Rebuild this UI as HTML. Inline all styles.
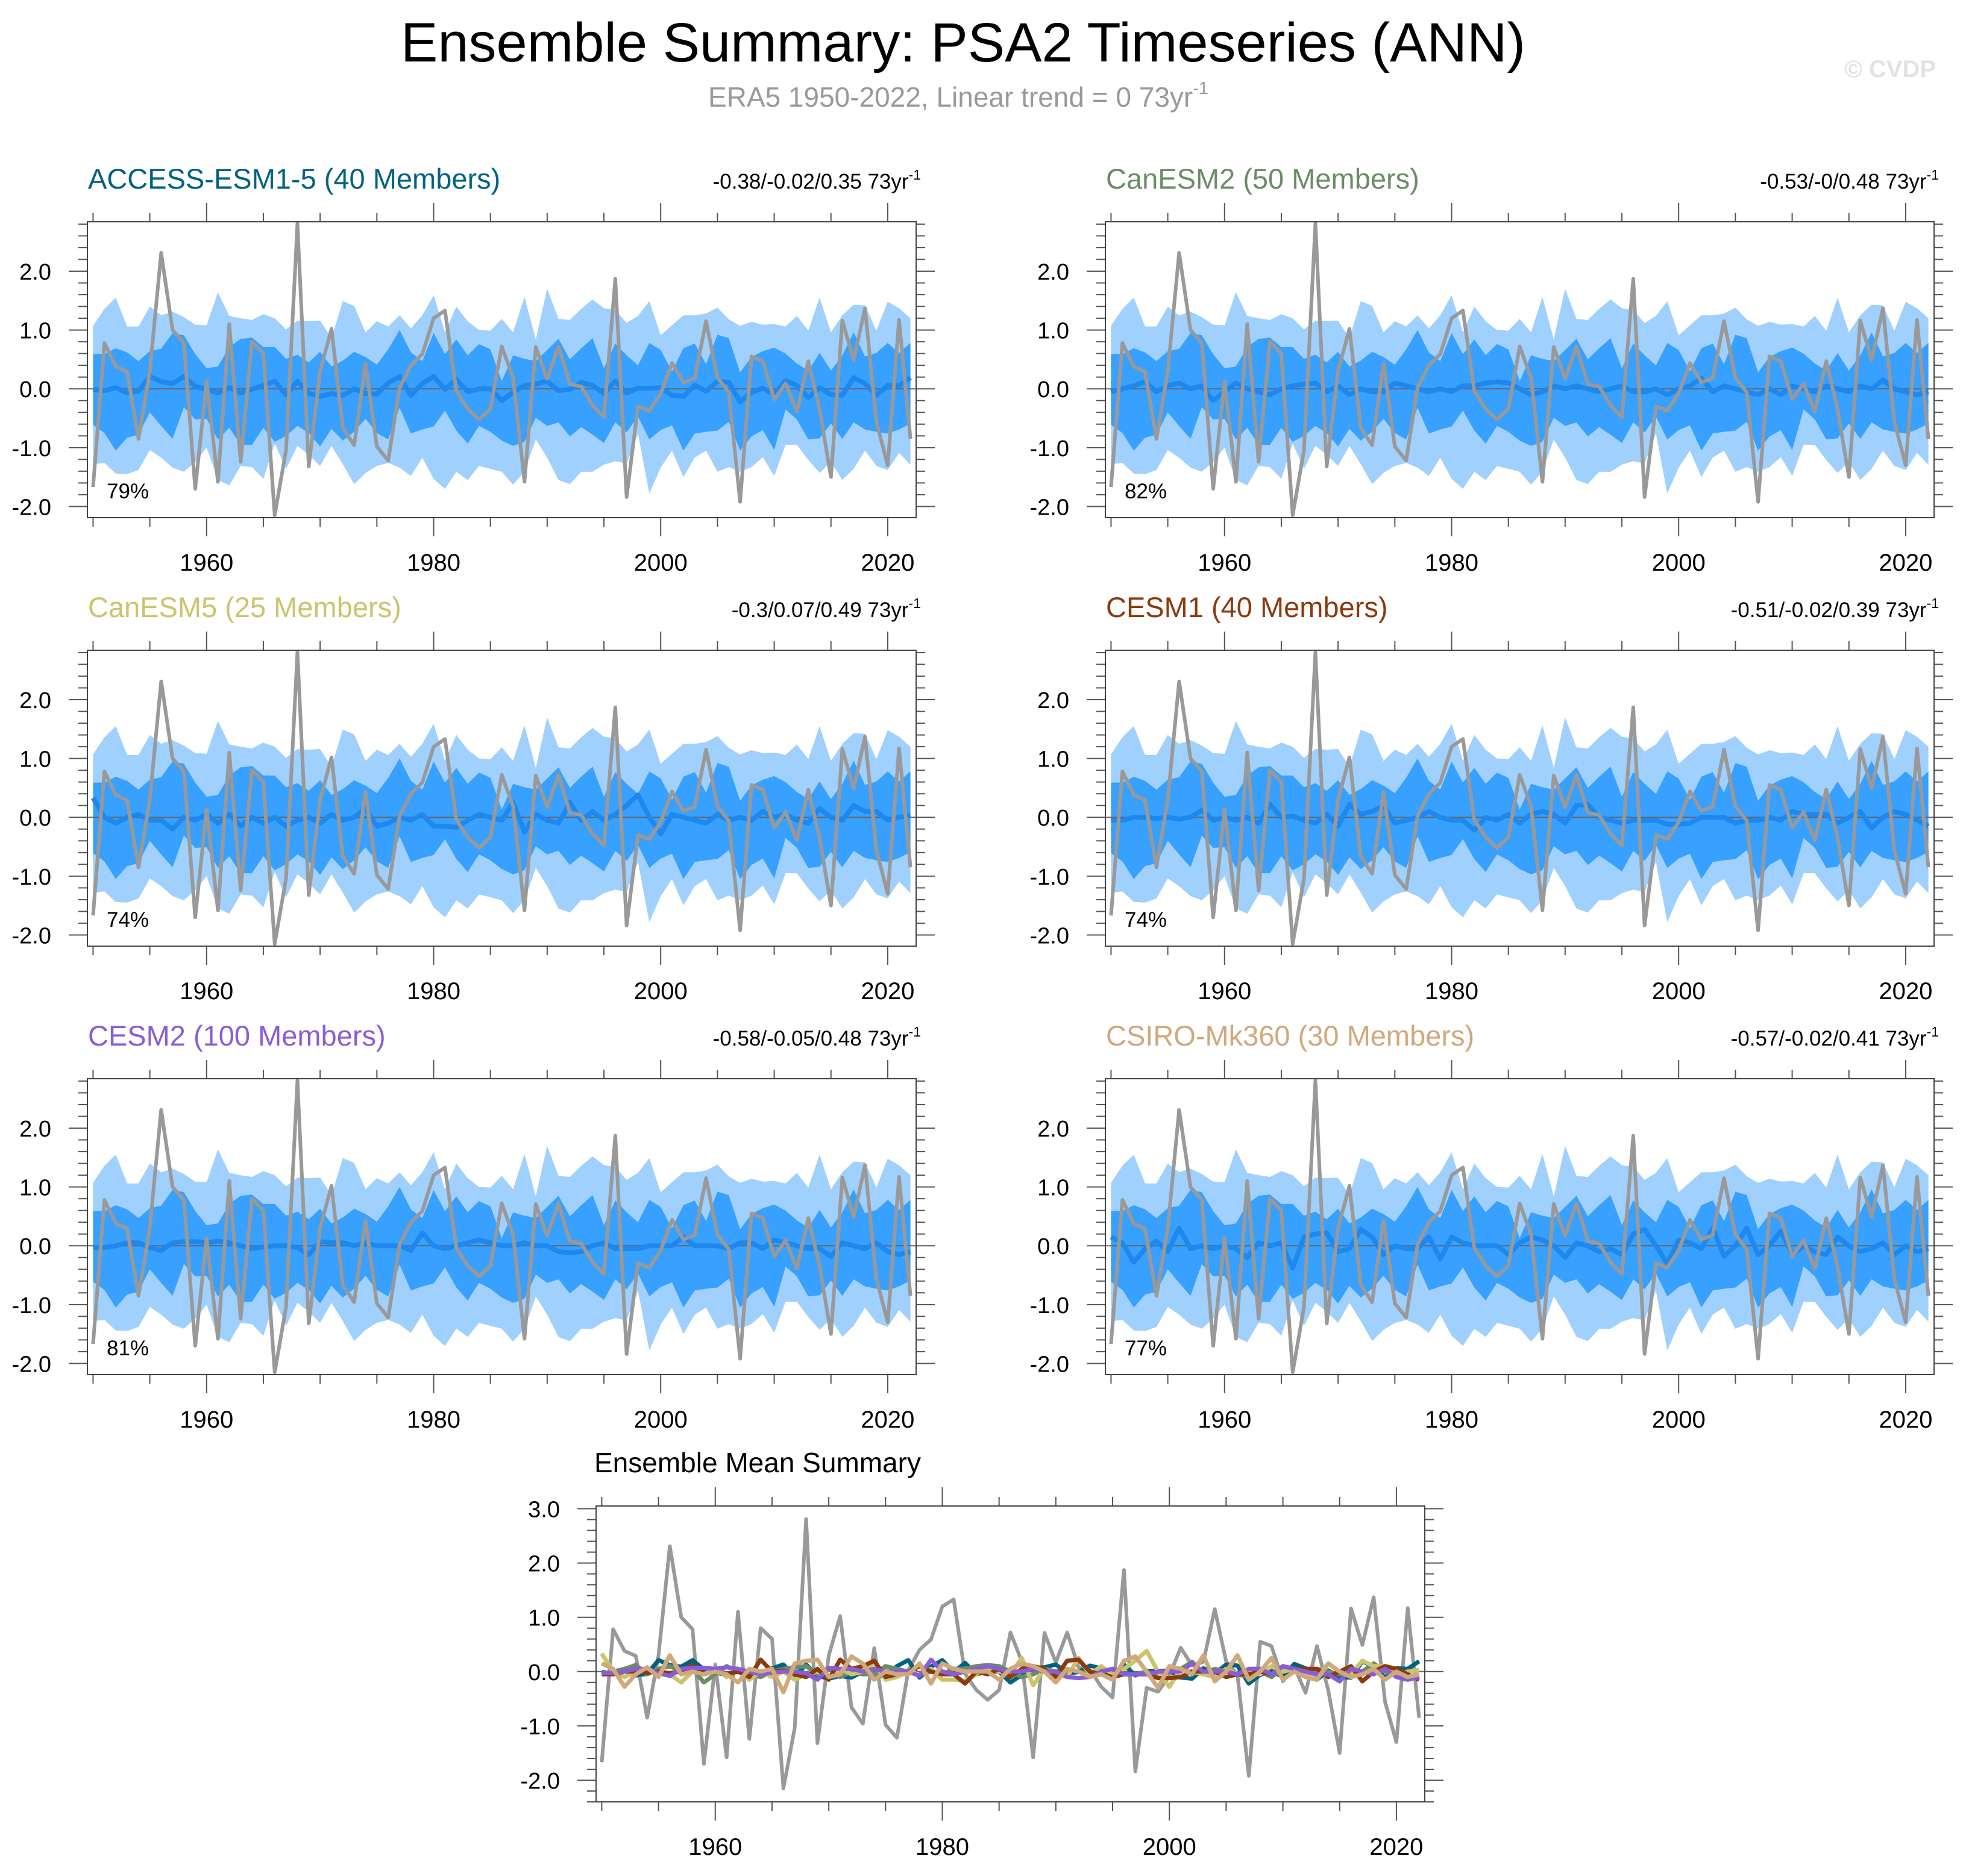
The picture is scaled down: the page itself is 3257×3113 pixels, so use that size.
<!DOCTYPE html>
<html><head><meta charset="utf-8"><style>
html,body{margin:0;padding:0;background:#fff;}
svg{display:block;font-family:"Liberation Sans",Arial,sans-serif;}
</style></head><body>
<svg id="fig" xmlns="http://www.w3.org/2000/svg" width="3257" height="3113" viewBox="0 0 3257 3113">
<rect width="3257" height="3113" fill="#fff"/>
<text x="1598" y="102" font-size="92" text-anchor="middle" fill="#000">Ensemble Summary: PSA2 Timeseries (ANN)</text>
<text x="1590" y="177" font-size="46" text-anchor="middle" fill="#999">ERA5 1950-2022, Linear trend = 0 73yr<tspan font-size="29" dy="-21">-1</tspan></text>
<text x="3212" y="128" font-size="40" font-weight="bold" text-anchor="end" fill="#e2e2e2">© CVDP</text>
<g id="plots"></g>
</svg>
<script>
const years = [];
for (let y = 1950; y <= 2022; y++) years.push(y);
const era5 = [-1.67,0.78,0.38,0.29,-0.85,0.30,2.31,1.00,0.78,-1.70,
0.13,-1.58,1.10,-1.24,0.80,0.60,-2.15,-1.04,2.81,-1.32,
0.30,1.02,-0.66,-0.96,0.43,-0.98,-1.22,0.02,0.40,0.59,
1.20,1.33,-0.04,-0.34,-0.52,-0.34,0.72,0.19,-1.58,0.71,
0.17,0.72,0.08,0.04,-0.28,-0.48,1.87,-1.84,-0.30,-0.37,
-0.08,0.44,0.11,0.18,1.15,0.19,-0.06,-1.92,0.55,0.47,
-0.18,0.09,-0.39,0.47,-0.35,-1.50,1.16,0.49,1.37,-0.56,
-1.30,1.17,-0.85];
const accessMean = [-0.01,-0.03,0.02,-0.07,-0.04,0.21,0.12,0.09,0.21,0.04,
-0.01,-0.07,0.02,-0.07,-0.01,0.06,0.13,-0.10,0.13,-0.08,
-0.13,-0.08,-0.11,0.00,-0.08,-0.09,0.10,0.21,-0.11,0.09,
0.21,-0.01,0.16,-0.05,0.00,0.00,-0.20,-0.06,0.06,0.08,
0.13,-0.03,-0.01,0.11,0.06,-0.08,0.13,-0.07,0.01,0.01,
0.02,-0.11,-0.13,0.06,-0.04,0.13,0.11,-0.22,-0.06,0.01,
-0.10,0.14,0.06,-0.15,0.02,-0.10,-0.11,0.19,0.09,-0.11,
0.06,0.05,0.19];
const outerTop = [1.07,1.36,1.55,1.06,1.06,1.40,1.25,1.31,1.22,1.09,
1.08,1.64,1.24,1.20,1.17,1.27,1.20,1.01,1.16,1.15,
1.16,0.86,1.49,1.41,0.96,1.15,1.06,1.25,1.03,1.25,
1.59,0.96,1.40,1.15,1.00,0.99,1.19,0.96,1.56,0.84,
1.70,1.19,1.17,1.36,1.52,1.37,1.34,1.12,1.24,1.49,
0.91,1.08,1.25,1.25,1.28,1.38,1.18,1.07,1.14,1.09,
1.10,1.06,1.24,0.99,1.55,0.96,1.25,1.43,1.42,0.99,
1.48,1.37,1.20];
const innerTop = [0.59,0.59,0.69,0.62,0.47,0.64,0.68,0.95,0.91,0.59,
0.35,0.38,0.71,0.85,0.87,0.71,0.71,0.51,0.58,0.45,
0.63,0.38,0.48,0.63,0.54,0.41,0.67,1.00,0.62,0.47,
0.95,0.59,0.84,0.57,0.76,0.67,0.13,0.57,0.51,0.47,
0.66,0.85,0.50,0.69,0.86,0.35,0.77,0.57,0.40,0.78,
0.66,0.30,0.69,0.77,0.42,0.92,0.86,0.28,0.54,0.64,
0.70,0.60,0.43,0.31,0.61,0.31,0.57,0.96,0.55,0.61,
0.78,0.61,0.78];
const innerBot = [-0.61,-0.75,-1.05,-0.83,-0.78,-0.40,-0.63,-0.85,-0.31,-0.52,
-0.51,-0.86,-0.66,-0.95,-0.95,-0.66,-0.90,-0.80,-0.63,-0.75,
-0.98,-0.68,-0.88,-0.73,-0.51,-0.75,-0.86,-0.32,-0.76,-0.69,
-0.64,-0.37,-0.71,-0.93,-0.63,-0.73,-0.88,-0.97,-0.90,-0.49,
-0.63,-0.57,-0.81,-0.65,-0.78,-0.92,-0.57,-0.74,-0.47,-0.86,
-0.70,-0.62,-1.05,-0.76,-0.73,-0.71,-0.56,-1.05,-0.81,-0.70,
-1.04,-0.35,-0.52,-0.86,-0.84,-0.59,-0.85,-0.57,-0.69,-0.73,
-0.76,-0.69,-0.59];
const outerBot = [-1.28,-1.26,-1.44,-1.45,-1.38,-1.04,-1.17,-1.34,-1.41,-1.24,
-1.00,-1.55,-1.64,-1.31,-1.33,-1.53,-0.93,-1.36,-0.97,-1.12,
-1.31,-0.97,-1.28,-1.62,-1.43,-1.31,-1.26,-1.34,-1.48,-1.17,
-1.53,-1.70,-1.41,-1.55,-1.31,-1.36,-1.41,-1.63,-1.41,-0.86,
-1.17,-1.55,-1.62,-1.41,-1.41,-1.29,-1.23,-1.27,-0.76,-1.78,
-1.34,-1.05,-1.50,-1.17,-1.05,-1.41,-1.33,-1.41,-1.33,-1.16,
-1.48,-0.95,-0.95,-1.21,-1.43,-1.24,-1.55,-1.36,-1.05,-1.31,
-1.38,-1.09,-1.29];
const canesm2Mean = [-0.05,0.00,0.05,0.12,-0.05,0.05,0.10,0.00,0.05,-0.20,
-0.05,0.10,0.00,-0.05,-0.10,0.00,0.05,0.08,0.10,-0.05,
0.05,-0.10,0.00,-0.05,-0.05,0.10,0.05,0.00,-0.05,0.00,
-0.05,0.05,0.05,0.10,0.12,0.10,0.00,-0.10,-0.05,0.05,
0.00,0.05,0.00,-0.05,0.00,0.05,-0.05,-0.05,0.00,-0.10,
0.00,0.05,0.18,-0.05,0.05,0.00,-0.05,-0.10,0.00,-0.10,
0.05,0.00,-0.05,0.05,0.00,-0.05,0.05,0.00,0.15,0.00,
-0.05,-0.10,-0.05];
const canesm5Mean = [0.33,0.00,-0.10,0.00,0.05,-0.05,-0.05,-0.20,0.00,-0.05,
0.05,-0.10,0.05,-0.15,0.00,-0.10,0.00,-0.15,-0.05,0.00,
-0.10,0.05,-0.05,0.00,0.15,-0.15,-0.10,0.00,-0.05,0.05,
-0.15,-0.15,-0.17,-0.05,0.05,0.00,-0.05,0.25,-0.25,0.05,
-0.05,-0.10,0.25,-0.05,0.10,-0.05,0.05,0.20,0.38,0.00,
-0.28,0.05,0.00,-0.05,-0.10,0.05,-0.05,0.00,-0.05,0.10,
0.00,0.05,-0.05,-0.10,0.15,0.00,-0.05,0.20,0.10,0.10,
-0.05,0.00,0.03];
const cesm1Mean = [-0.05,-0.05,0.00,0.00,-0.02,0.00,-0.03,0.00,0.12,-0.05,
0.00,-0.05,0.00,-0.10,0.22,0.00,0.02,-0.05,-0.10,0.05,
-0.15,0.22,0.05,0.10,0.20,-0.10,-0.05,0.00,0.10,0.00,
-0.05,-0.05,-0.22,0.00,-0.05,0.05,-0.10,0.05,0.10,0.05,
-0.10,0.20,0.22,0.00,-0.05,-0.10,-0.05,-0.05,-0.05,-0.12,
-0.12,-0.10,0.00,0.00,0.00,-0.10,-0.05,-0.05,0.00,-0.05,
0.10,0.05,0.05,0.05,-0.10,0.00,0.10,-0.18,0.00,0.10,
0.05,-0.05,-0.15];
const cesm2Mean = [-0.03,-0.03,0.00,0.05,0.05,-0.03,-0.08,0.05,0.07,0.07,
0.05,0.08,0.05,0.00,-0.05,-0.02,0.00,0.00,-0.03,-0.15,
0.07,0.05,0.05,0.00,0.05,0.00,0.00,0.00,-0.08,0.22,
0.00,-0.05,0.00,0.05,0.10,0.05,0.00,0.00,0.05,0.00,
0.00,-0.10,-0.12,-0.10,0.00,0.05,-0.05,-0.05,-0.05,0.00,
0.00,0.00,0.15,0.00,0.00,0.00,-0.05,0.05,0.05,-0.05,
0.10,0.05,0.00,-0.05,-0.05,-0.18,0.05,0.00,-0.05,0.05,
-0.10,-0.15,-0.10];
const csiroMean = [0.15,0.05,-0.28,-0.05,0.08,-0.10,0.30,-0.05,0.00,-0.05,
0.00,-0.05,-0.20,0.05,0.00,0.05,-0.38,0.15,0.20,0.22,
-0.10,-0.05,0.28,0.15,-0.15,0.00,-0.05,-0.05,0.15,-0.22,
0.15,0.05,0.00,0.00,0.00,-0.15,0.05,0.15,0.10,0.00,
-0.20,0.05,0.00,-0.10,-0.05,-0.15,0.20,0.28,0.00,-0.30,
0.10,0.05,-0.05,0.30,-0.18,0.00,0.30,-0.15,0.00,0.25,
-0.15,0.00,-0.10,-0.15,0.15,0.00,-0.10,-0.05,0.05,-0.15,
0.00,-0.10,-0.05];
const modelNames = ["ACCESS-ESM1-5 (40 Members)","CanESM2 (50 Members)","CanESM5 (25 Members)","CESM1 (40 Members)","CESM2 (100 Members)","CSIRO-Mk360 (30 Members)"];
const modelColors = ["#00627f","#6b8c66","#cbc46e","#8b3a0e","#8a5cd8","#d1a87c"];
const trendLabels = ["-0.38/-0.02/0.35","-0.53/-0/0.48","-0.3/0.07/0.49","-0.51/-0.02/0.39","-0.58/-0.05/0.48","-0.57/-0.02/0.41"];
const pctLabels = ["79%","82%","74%","74%","81%","77%"];
const modelMeans = [accessMean,canesm2Mean,canesm5Mean,cesm1Mean,cesm2Mean,csiroMean];
const yTicks = [-2,-1,0,1,2];
const yTicksBottom = [-2,-1,0,1,2,3];
const xTicks = [1960,1980,2000,2020];

const NS = "http://www.w3.org/2000/svg";
const root = document.getElementById("plots");
function el(tag, attrs, parent) {
  const e = document.createElementNS(NS, tag);
  for (const k in attrs) e.setAttribute(k, attrs[k]);
  (parent || root).appendChild(e);
  return e;
}
function axes(x0, y0, w, h, ymin, ymax) {
  const sx = yr => x0 + (yr - 1949.5) / 73 * w;
  const sy = v => y0 + (ymax - v) / (ymax - ymin) * h;
  return {sx, sy};
}
function poly(sx, sy, arr) {
  return arr.map((v, i) => sx(years[i]).toFixed(1) + "," + sy(v).toFixed(1)).join(" ");
}
function band(g, sx, sy, top, bot, color) {
  const pts = poly(sx, sy, top) + " " + bot.map((v, i) => i).reverse().map(i => sx(years[i]).toFixed(1) + "," + sy(bot[i]).toFixed(1)).join(" ");
  return el("polygon", {points: pts, fill: color}, g);
}
function frameAndTicks(g, x0, y0, w, h, ymin, ymax, sx, sy, ticks, labelY) {
  const tg = el("g", {stroke: "#555", "stroke-width": 2}, g);
  
  
  for (let k = Math.ceil(ymin * 5); k <= Math.floor(ymax * 5); k++) {
    const v = k / 5, y = sy(v), major = (k % 5 === 0);
    const L = major ? 31 : 15;
    el("line", {x1: x0 - L, y1: y, x2: x0, y2: y}, tg);
    el("line", {x1: x0 + w, y1: y, x2: x0 + w + L, y2: y}, tg);
  }
  for (let yr = 1950; yr <= 2020; yr += 5) {
    const x = sx(yr), major = (yr % 20 === 0);
    const L = major ? 31 : 15;
    el("line", {x1: x, y1: y0 - L, x2: x, y2: y0}, tg);
    el("line", {x1: x, y1: y0 + h, x2: x, y2: y0 + h + L}, tg);
  }
  const fr = el("rect", {x: x0, y: y0, width: w, height: h, fill: "none", stroke: "#444", "stroke-width": 2}, g);
  
  
  ticks.forEach(v => {
    const t = el("text", {x: x0 - 60, y: sy(v) + 14, "font-size": 38, "text-anchor": "end", fill: "#000"}, g);
    
    
    t.textContent = v.toFixed(1);
  });
  xTicks.forEach(yr => {
    const t = el("text", {x: sx(yr), y: y0 + h + labelY, "font-size": 40, "text-anchor": "middle", fill: "#000"}, g);
    
    
    t.textContent = yr;
  });
}

const W = 1375, H = 491;
const colX = [145, 1834], rowY = [368, 1079, 1790];
const YMIN = -2.19, YMAX = 2.84;
for (let m = 0; m < 6; m++) {
  const x0 = colX[m % 2], y0 = rowY[Math.floor(m / 2)];
  const g = el("g", {});
  
  
  const {sx, sy} = axes(x0, y0, W, H, YMIN, YMAX);
  const title = el("text", {x: x0 + 1, y: y0 - 55, "font-size": 47, fill: modelColors[m]}, g);
  
  
  title.textContent = modelNames[m];
  const tr = el("text", {x: x0 + W + 8, y: y0 - 55, "font-size": 35, "text-anchor": "end", fill: "#000"}, g);
  
  
  tr.innerHTML = trendLabels[m] + " 73yr<tspan font-size=\"23\" dy=\"-15\">-1</tspan>";
  const b1 = band(g, sx, sy, outerTop, outerBot, "#a0d0fd");
  
  
  const b2 = band(g, sx, sy, innerTop, innerBot, "#38a0fe");
  
  
  const z = el("line", {x1: x0, y1: sy(0), x2: x0 + W, y2: sy(0), stroke: "#666", "stroke-width": 2}, g);
  
  
  const ml = el("polyline", {points: poly(sx, sy, modelMeans[m]), fill: "none", stroke: "#1e88ee", "stroke-width": 8, "stroke-linejoin": "round"}, g);
  
  
  const ol = el("polyline", {points: poly(sx, sy, era5), fill: "none", stroke: "#999", "stroke-width": 6, "stroke-linejoin": "round"}, g);
  
  
  const pc = el("text", {x: x0 + 32, y: y0 + H - 32, "font-size": 35, fill: "#000"}, g);
  
  
  pc.textContent = pctLabels[m];
  frameAndTicks(g, x0, y0, W, H, YMIN, YMAX, sx, sy, yTicks, 88);
}

{
  const x0 = 989, y0 = 2499, w = 1375, h = 491, ymin = -2.4, ymax = 3.05;
  const g = el("g", {});
  
  
  const {sx, sy} = axes(x0, y0, w, h, ymin, ymax);
  const t = el("text", {x: x0 - 3, y: 2443, "font-size": 46, fill: "#000"}, g);
  
  
  t.textContent = "Ensemble Mean Summary";
  const z = el("line", {x1: x0, y1: sy(0), x2: x0 + w, y2: sy(0), stroke: "#666", "stroke-width": 2}, g);
  
  
  const ol = el("polyline", {points: poly(sx, sy, era5), fill: "none", stroke: "#999", "stroke-width": 6, "stroke-linejoin": "round"}, g);
  
  
  for (let m = 0; m < 6; m++) {
    const l = el("polyline", {points: poly(sx, sy, modelMeans[m]), fill: "none", stroke: modelColors[m], "stroke-width": 7, "stroke-linejoin": "round"}, g);
    
    
  }
  frameAndTicks(g, x0, y0, w, h, ymin, ymax, sx, sy, yTicksBottom, 88);
}
</script>
</body></html>
